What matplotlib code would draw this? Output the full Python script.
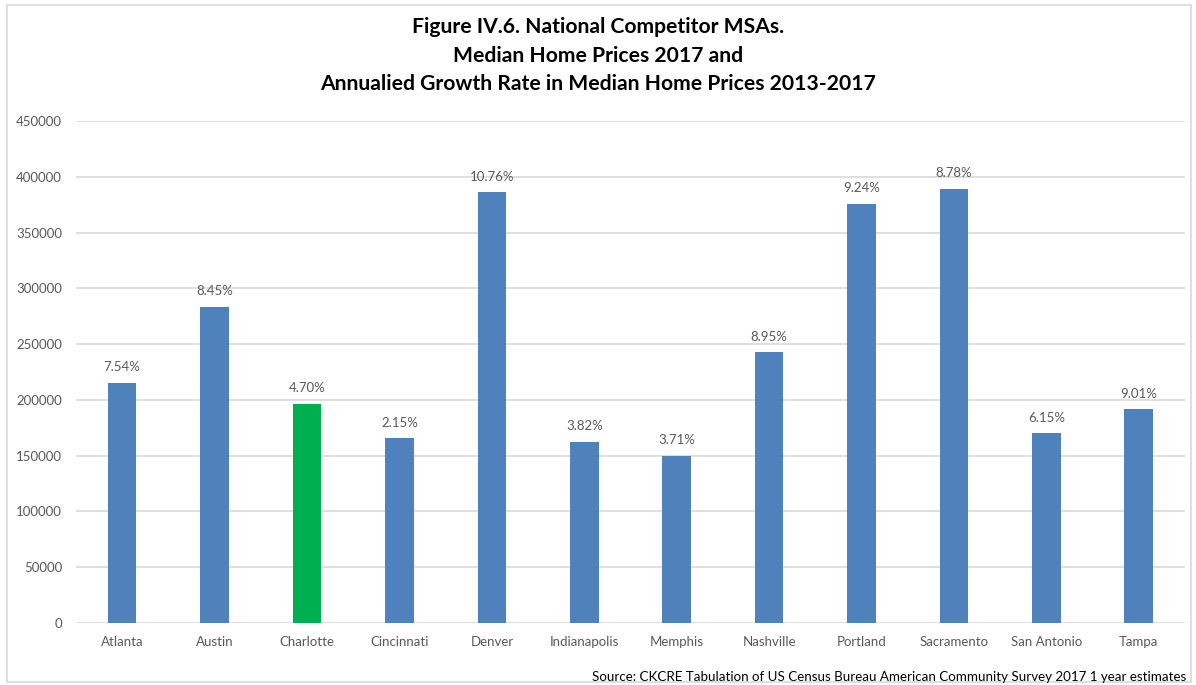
import matplotlib.pyplot as plt
from matplotlib.patches import Rectangle

# data
cities = ['Atlanta', 'Austin', 'Charlotte', 'Cincinnati', 'Denver', 'Indianapolis',
          'Memphis', 'Nashville', 'Portland', 'Sacramento', 'San Antonio', 'Tampa']
prices = [215000, 283500, 196600, 165600, 386000, 162300,
          149500, 242700, 375800, 389200, 170100, 191600]
growth = ['7.54%', '8.45%', '4.70%', '2.15%', '10.76%', '3.82%',
          '3.71%', '8.95%', '9.24%', '8.78%', '6.15%', '9.01%']
highlight = 'Charlotte'

plt.rcParams['font.family'] = ['Lato', 'DejaVu Sans']

fig = plt.figure(figsize=(11.96, 6.85), dpi=100)
ax = fig.add_axes([0.0635, 0.0905, 0.9273, 0.7329])

colors = ['#00b050' if c == highlight else '#4f81bd' for c in cities]
bars = ax.bar(cities, prices, width=0.31, color=colors, zorder=3)

for b, lab in zip(bars, growth):
    ax.annotate(lab, (b.get_x() + b.get_width() / 2, b.get_height()),
                xytext=(0, 7), textcoords='offset points',
                ha='center', va='bottom', fontsize=9.5, color='#595959')

ax.set_ylim(0, 450000)
ax.set_xlim(-0.5, len(cities) - 0.5)
ax.set_yticks(range(0, 450001, 50000))
ax.yaxis.grid(True, color='#d9d9d9', lw=1.2, zorder=0)
for s in ax.spines.values():
    s.set_visible(False)
ax.tick_params(length=0, colors='#595959', labelsize=9.5)
ax.tick_params(axis='y', pad=10)
ax.tick_params(axis='x', pad=9)

fig.text(0.5, 0.975, 'Figure IV.6. National Competitor MSAs.\nMedian Home Prices 2017 and\n'
         'Annualied Growth Rate in Median Home Prices 2013-2017',
         ha='center', va='top', fontsize=15.2, fontweight='bold', linespacing=1.53)
fig.text(0.992, 0.0117, 'Source: CKCRE Tabulation of US Census Bureau American Community Survey 2017 1 year estimates',
         ha='right', va='center', fontsize=9.6)

fig.patches.append(Rectangle((0.006, 0.004), 0.99, 0.989, transform=fig.transFigure,
                             fill=False, edgecolor='#d9d9d9', lw=1.2))

fig.savefig('out.png', dpi=100)
